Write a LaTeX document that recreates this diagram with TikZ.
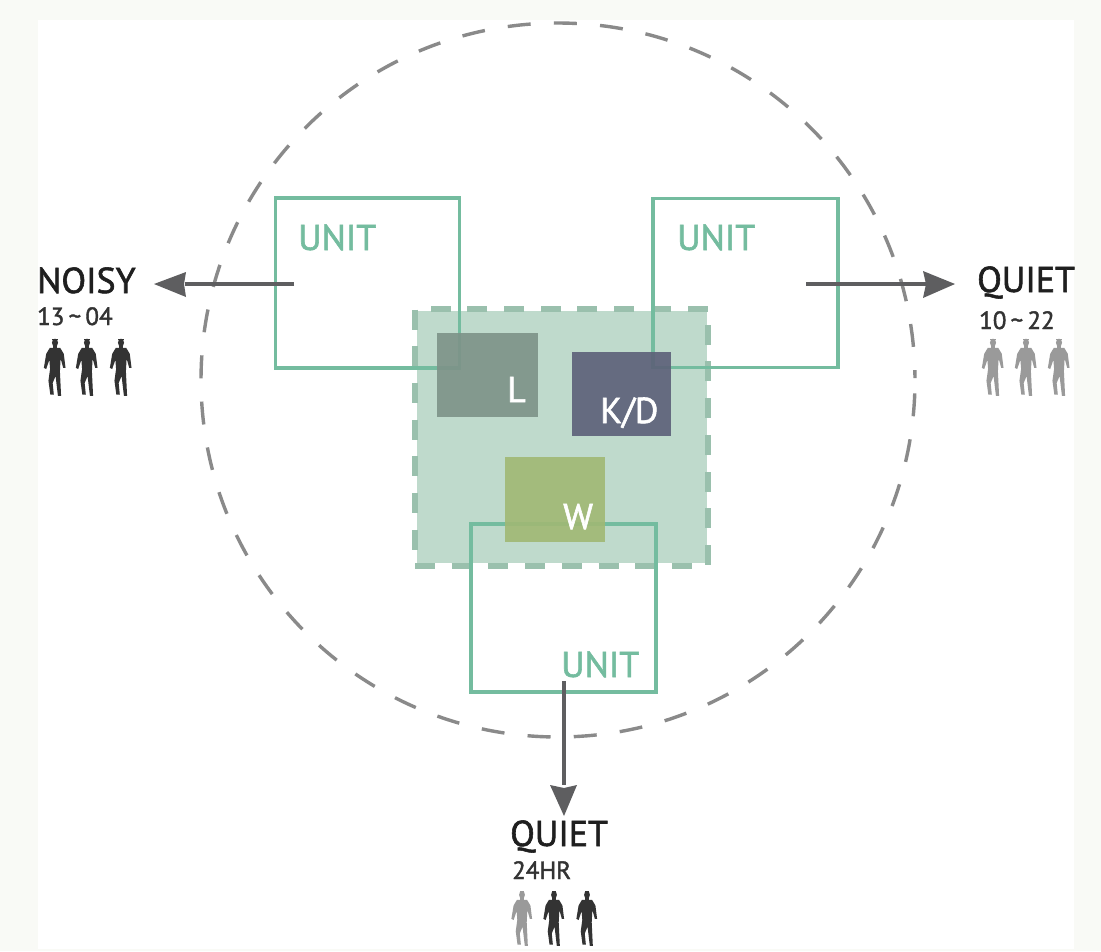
\documentclass[tikz,border=0pt]{standalone}
\usepackage{fontspec}
\setmainfont{PT Sans}
\newfontfamily\semibold[FakeBold=1.6]{PT Sans}
\definecolor{bgout}{HTML}{F9FAF6}
\definecolor{unitc}{HTML}{74BC9F}
\definecolor{corefill}{HTML}{BFDACC}
\definecolor{coredash}{HTML}{9AC0AD}
\definecolor{lc}{HTML}{7D9288}
\definecolor{kc}{HTML}{5C6078}
\definecolor{wc}{HTML}{A0B874}
\definecolor{arrowc}{HTML}{5E5E60}
\definecolor{ringc}{HTML}{8A8A8A}
\definecolor{darkp}{HTML}{333333}
\definecolor{lightp}{HTML}{9A9A9A}
\newcommand{\personshape}[1]{%
  \fill[#1] (0,-22.5) ellipse[x radius=2.6,y radius=3.4];
  \fill[#1] (-2.2,-26) rectangle (2.2,-24.4);
  \fill[#1] (-1.5,-22) rectangle (1.5,-17);
  \fill[#1,line join=round] (-4.5,-18) -- (4.5,-18) -- (7.5,-13) -- (9,-1) -- (7,-1) -- (4.8,-9) -- (4.2,2)
     -- (5.2,23) -- (2.5,23) -- (0.5,6) -- (-2,12) -- (-1,22) -- (-4,22) -- (-5.6,10) -- (-4.2,0) -- (-4.8,-8)
     -- (-7.5,0) -- (-9.5,-1) -- (-7.5,-13) -- cycle;
}
\tikzset{
  unitbox/.style={draw=unitc,line width=3.8pt,inner sep=0pt},
  roombox/.style={fill opacity=0.9,inner sep=0pt},
  unitlabel/.style={text=unitc,font=\semibold\fontsize{36}{36}\selectfont,inner sep=0pt,anchor=base west},
  roomlabel/.style={text=white,font=\semibold\fontsize{36}{36}\selectfont,inner sep=0pt,anchor=base west},
  headlabel/.style={text=black!88,font=\semibold\fontsize{36}{36}\selectfont,inner sep=0pt,anchor=base west},
  sublabel/.style={text=black!80,font=\semibold\fontsize{25}{25}\selectfont,inner sep=0pt,anchor=base west},
  flow/.style={draw=arrowc,line width=4pt},
  flowhead/.style={fill=arrowc,draw=none},
  ringline/.style={draw=ringc,line width=3.4pt},
}
\begin{document}
\begin{tikzpicture}[x=1pt,y=-1pt]
\useasboundingbox (0,0) rectangle (1101,951);
\fill[bgout] (0,0) rectangle (1101,951);
\fill[white] (38,19.5) rectangle (1074,949);
% ring
\coordinate (rc) at (558,380);
\draw[ringline,dash pattern=on 23pt off 23.25pt,dash phase=23pt] (rc) ++(-1.6:357) arc[start angle=-1.6,end angle=-360,radius=357];
\draw[ringline] (rc) ++(-0.3:357) arc[start angle=-0.3,end angle=-1.6,radius=357];
% core
\node[fill=corefill,minimum width=290pt,minimum height=252pt,inner sep=0pt] (corefillbox) at (562,437) {};
\node[draw=coredash,line width=6pt,dash pattern=on 20pt off 16.7pt,minimum width=293pt,minimum height=257pt,inner sep=0pt] (core) at (561.5,437) {};
% units
\node[unitbox,minimum width=184pt,minimum height=170pt] (U1) at (367.5,283) {};
\node[unitbox,minimum width=185pt,minimum height=169pt] (U2) at (745.5,283) {};
\node[unitbox,minimum width=185pt,minimum height=168pt] (U3) at (563.5,608) {};
% rooms
\node[roombox,fill=lc,minimum width=101pt,minimum height=84pt] (L) at (487.5,375) {};
\node[roombox,fill=kc,minimum width=99pt,minimum height=84pt] (KD) at (621.5,394) {};
\node[roombox,fill=wc,minimum width=100pt,minimum height=85pt] (W) at (554.5,499) {};
% labels
\node[unitlabel] (t1) at (298,250) {UNIT};
\node[unitlabel] (t2) at (677,250) {UNIT};
\node[unitlabel] (t3) at (561,677) {UNIT};
\node[roomlabel] (tL) at (507,402) {L};
\node[roomlabel] (tK) at (600,423) {K/D};
\node[roomlabel] (tW) at (563,529) {W};
\node[headlabel] (n) at (37,293) {NOISY};
\node[sublabel] (nt) at (37,325) {13\,\textasciitilde\,04};
\node[headlabel] (q1) at (977,292) {QUIET};
\node[sublabel] (q1t) at (979,329) {10\,\textasciitilde\,22};
\node[headlabel] (q2) at (510,846) {QUIET};
\node[sublabel] (q2t) at (512,879) {24HR};
% arrows
\coordinate (a1s) at (294,284); \coordinate (a1e) at (185,284);
\coordinate (a2s) at (806,284); \coordinate (a2e) at (930,284);
\coordinate (a3s) at (564,681); \coordinate (a3e) at (564,785);
\draw[flow] (a1s) -- (a1e);
\fill[flowhead] (154,284) -- (186,272) -- (184,284) -- (186,297) -- cycle;
\draw[flow] (a2s) -- (a2e);
\fill[flowhead] (955,284) -- (923,271) -- (926,284) -- (923,298) -- cycle;
\draw[flow] (a3s) -- (a3e);
\fill[flowhead] (564,816) -- (550,785) -- (564,788) -- (577,785) -- cycle;
% people
\begin{scope}[shift={(55,369)},scale=1.17]\personshape{darkp}\end{scope}
\begin{scope}[shift={(87,369)},scale=1.17]\personshape{darkp}\end{scope}
\begin{scope}[shift={(121,369)},scale=1.17]\personshape{darkp}\end{scope}
\begin{scope}[shift={(993,369)},scale=1.17]\personshape{lightp}\end{scope}
\begin{scope}[shift={(1026,369)},scale=1.17]\personshape{lightp}\end{scope}
\begin{scope}[shift={(1059,369)},scale=1.17]\personshape{lightp}\end{scope}
\begin{scope}[shift={(522,920)},scale=1.12]\personshape{lightp}\end{scope}
\begin{scope}[shift={(554,920)},scale=1.12]\personshape{darkp}\end{scope}
\begin{scope}[shift={(587,920)},scale=1.12]\personshape{darkp}\end{scope}
\end{tikzpicture}
\end{document}
